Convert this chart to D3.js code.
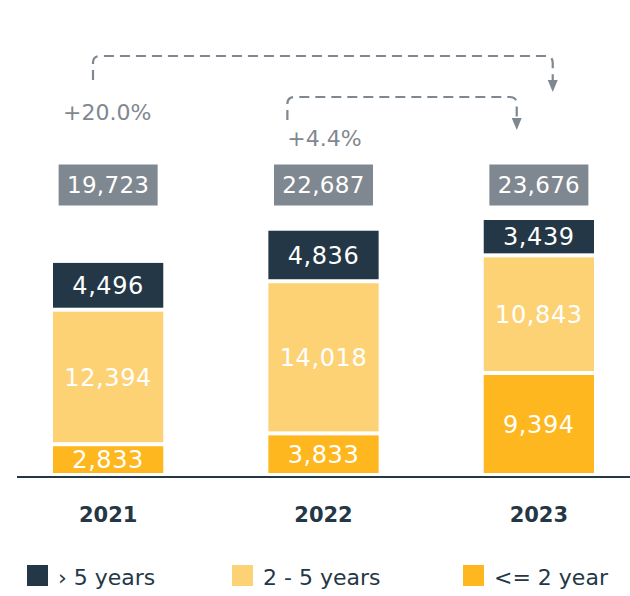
<!DOCTYPE html>
<html>
<head>
<meta charset="utf-8">
<script src="https://cdn.jsdelivr.net/npm/d3@7"></script>
<style>
  body { margin: 0; background: #fff; }
  svg { display: block; font-family: "DejaVu Sans", sans-serif; }
</style>
</head>
<body>
<svg width="630" height="596"></svg>
<script>
// data
var years = ["2021", "2022", "2023"];
var over5 = [4496, 4836, 3439];
var from2to5 = [12394, 14018, 10843];
var upto2 = [2833, 3833, 9394];
var seriesNames = ["> 5 years", "2 - 5 years", "<= 2 year"];
var seriesLegend = ["\u203A 5 years", "2 - 5 years", "<= 2 year"];
var growth = [
  {from: "2021", to: "2023", label: "+20.0%"},
  {from: "2022", to: "2023", label: "+4.4%"}
];

var colors = {"> 5 years": "#243746", "2 - 5 years": "#fdd275", "<= 2 year": "#feb71e"};
var grey = "#7f8890", navy = "#243746";

var svg = d3.select("svg");

var rows = years.map(function(y, i) {
  return {year: y, "> 5 years": over5[i], "2 - 5 years": from2to5[i], "<= 2 year": upto2[i]};
});
var totals = rows.map(function(d) { return d["> 5 years"] + d["2 - 5 years"] + d["<= 2 year"]; });

var x = d3.scaleBand().domain(years).range([53, 594]).paddingInner(0.488).paddingOuter(0);
var y = d3.scaleLinear().domain([0, d3.max(totals)]).range([475, 218]);

// bottom-up stacking
var stack = d3.stack().keys(["<= 2 year", "2 - 5 years", "> 5 years"]);
var layers = stack(rows);
var gap = 2;

var g = svg.append("g");

layers.forEach(function(layer) {
  var key = layer.key;
  g.selectAll(".seg-" + key.replace(/\W/g, ""))
    .data(layer)
    .enter().append("rect")
    .attr("x", function(d) { return x(d.data.year); })
    .attr("y", function(d) { return y(d[1]) + gap; })
    .attr("width", x.bandwidth())
    .attr("height", function(d) { return y(d[0]) - y(d[1]) - 2 * gap; })
    .style("fill", colors[key]);

  g.selectAll(".lab-" + key.replace(/\W/g, ""))
    .data(layer)
    .enter().append("text")
    .attr("x", function(d) { return x(d.data.year) + x.bandwidth() / 2; })
    .attr("y", function(d) { return (y(d[0]) + y(d[1])) / 2 + 24 * 0.36; })
    .attr("text-anchor", "middle")
    .style("font-size", "24px")
    .style("letter-spacing", "0.6px")
    .style("fill", "#fff")
    .text(function(d) { return d3.format(",")(d.data[key]); });
});

// axis line
svg.append("line")
  .attr("x1", 17).attr("x2", 630)
  .attr("y1", 477).attr("y2", 477)
  .style("stroke", navy).style("stroke-width", 2);

// year labels
svg.append("g")
  .attr("transform", "translate(0,478)")
  .call(d3.axisBottom(x).tickSize(0).tickPadding(0))
  .call(function(a) { a.select(".domain").remove(); })
  .selectAll("text")
  .attr("y", 44)
  .attr("dy", null)
  .style("font-family", "DejaVu Sans, sans-serif")
  .style("font-size", "21px")
  .style("font-weight", "bold")
  .style("fill", navy);

// total boxes
var tot = svg.append("g").selectAll("g")
  .data(years)
  .enter().append("g")
  .attr("transform", function(d) { return "translate(" + (x(d) + x.bandwidth() / 2) + ",185)"; });
tot.append("rect")
  .attr("x", -49.5).attr("y", -20.5)
  .attr("width", 99).attr("height", 41)
  .style("fill", grey);
tot.append("text")
  .attr("text-anchor", "middle")
  .attr("y", 23 * 0.36)
  .style("font-size", "23px")
  .style("letter-spacing", "0.3px")
  .style("fill", "#fff")
  .text(function(d, i) { return d3.format(",")(totals[i]); });

// growth arrows
var arrowCfg = [
  {x0: 40, x1: 69, top: 56, startY: 80, tipY: 92, lx: 10, ly: 120},
  {x0: 19, x1: 33, top: 97, startY: 120, tipY: 130, lx: 19, ly: 146}
];
growth.forEach(function(gr, i) {
  var c = arrowCfg[i];
  var sx = x(gr.from) + c.x0, ex = x(gr.to) + c.x1, r = 7;
  var p = d3.path();
  p.moveTo(sx, c.startY);
  p.lineTo(sx, c.top + r);
  p.quadraticCurveTo(sx, c.top, sx + r, c.top);
  p.lineTo(ex - r, c.top);
  p.quadraticCurveTo(ex, c.top, ex, c.top + r);
  p.lineTo(ex, c.tipY - 11);
  svg.append("path")
    .attr("d", p.toString())
    .style("fill", "none")
    .style("stroke", grey)
    .style("stroke-width", 2.2)
    .style("stroke-dasharray", "10,6");
  svg.append("path")
    .attr("d", "M" + (ex - 5) + "," + (c.tipY - 12) + "L" + (ex + 5) + "," + (c.tipY - 12) + "L" + ex + "," + c.tipY + "Z")
    .style("fill", grey);
  svg.append("text")
    .attr("x", x(gr.from) + c.lx)
    .attr("y", c.ly)
    .style("font-size", "22px")
    .style("fill", grey)
    .text(gr.label);
});

// legend
var legX = [27, 232, 463];
var leg = svg.append("g").selectAll("g")
  .data(seriesNames)
  .enter().append("g")
  .attr("transform", function(d, i) { return "translate(" + legX[i] + ",565)"; });
leg.append("rect")
  .attr("width", 21).attr("height", 21)
  .style("fill", function(d) { return colors[d]; });
leg.append("text")
  .attr("x", 31)
  .attr("y", 20)
  .style("font-size", "22px")
  .style("fill", navy)
  .text(function(d, i) { return seriesLegend[i]; });
</script>
</body>
</html>
